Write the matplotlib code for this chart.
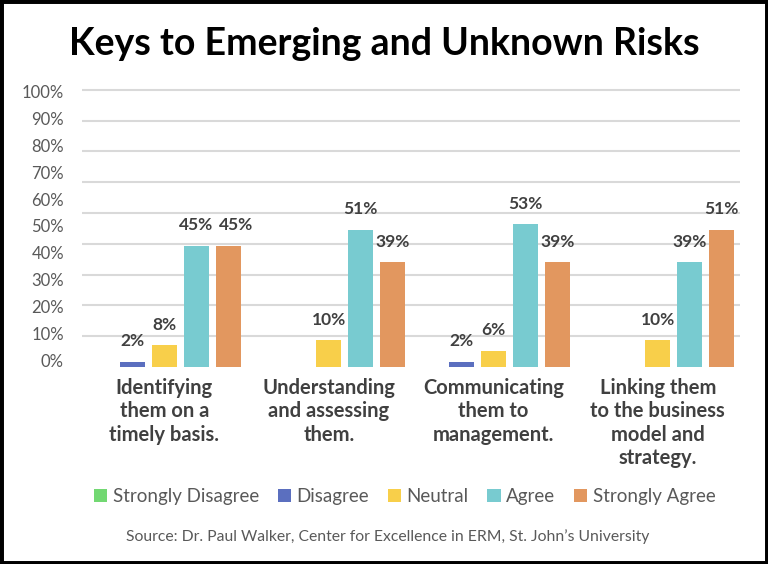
import matplotlib.pyplot as plt
from matplotlib.ticker import MultipleLocator
from matplotlib.patches import Rectangle

# Survey data (percent of respondents)
categories = [
    "Identifying\nthem on a\ntimely basis.",
    "Understanding\nand assessing\nthem.",
    "Communicating\nthem to\nmanagement.",
    "Linking them\nto the business\nmodel and\nstrategy.",
]
responses = ["Strongly Disagree", "Disagree", "Neutral", "Agree", "Strongly Agree"]
strongly_disagree = [0, 0, 0, 0]
disagree = [2, 0, 2, 0]
neutral = [8, 10, 6, 10]
agree = [45, 51, 53, 39]
strongly_agree = [45, 39, 39, 51]
y_ticks = [0, 10, 20, 30, 40, 50, 60, 70, 80, 90, 100]

series = [strongly_disagree, disagree, neutral, agree, strongly_agree]
colors = ["#72d872", "#5b6fbf", "#f8cf4a", "#78cbd0", "#e2975f"]

plt.rcParams["font.family"] = ["Lato", "DejaVu Sans"]

fig = plt.figure(figsize=(7.68, 5.64), dpi=100)
ax = fig.add_axes([0.1068, 0.3493, 0.8568, 0.5009])

bar_w = 0.152
step = 0.1945
x = range(len(categories))
for j, (vals, name, col) in enumerate(zip(series, responses, colors)):
    pos = [i + (j - 2) * step for i in x]
    ax.bar(pos, vals, bar_w, color=col, label=name, zorder=3)
    for i, (p, v) in enumerate(zip(pos, vals)):
        if v <= 0:
            continue
        # nudge a label right when it would collide with an equal neighbour
        dx = 6 if j > 0 and series[j - 1][i] == v else 0
        ax.annotate(f"{v}%", (p, v), xytext=(dx, 9), textcoords="offset points",
                    ha="center", va="bottom", fontsize=12.5, fontweight="bold",
                    color="#404040")

ax.set_xlim(-0.5, len(categories) - 0.5)
ax.set_ylim(0, 105)

ax.set_yticks(y_ticks)
ax.set_yticklabels([f"{t}%" for t in y_ticks], fontsize=12, color="#595959")
plt.setp(ax.get_yticklabels(), va="baseline")

# gridlines of the underlying chart don't line up with the tick labels
ax.yaxis.set_minor_locator(MultipleLocator(103 / 9))
ax.grid(axis="y", which="minor", color="#d9d9d9", linewidth=1.5, zorder=0)
ax.tick_params(axis="y", which="both", length=0, pad=13)

ax.set_xticks(list(x))
ax.set_xticklabels(categories, fontsize=14.5, fontweight="bold", color="#404040",
                   linespacing=1.2)
ax.tick_params(axis="x", length=0, pad=8)

for s in ax.spines.values():
    s.set_visible(False)

fig.text(0.5, 0.922, "Keys to Emerging and Unknown Risks", ha="center", va="center",
         fontsize=27, fontweight="bold", color="black")

handles, names = ax.get_legend_handles_labels()
fig.legend(handles, names, loc="center", bbox_to_anchor=(0.527, 0.12), ncol=5,
           frameon=False, fontsize=13.5, labelcolor="#595959", handlelength=0.7,
           handleheight=0.7, handletextpad=0.3, columnspacing=1.0)

fig.text(0.505, 0.049,
         "Source: Dr. Paul Walker, Center for Excellence in ERM, St. John\u2019s University",
         ha="center", va="center", fontsize=11.3, color="#595959")

fig.patches.append(Rectangle((0, 0), 1, 1, transform=fig.transFigure, fill=False,
                             edgecolor="black", linewidth=5))

fig.savefig("out.png", dpi=100)
